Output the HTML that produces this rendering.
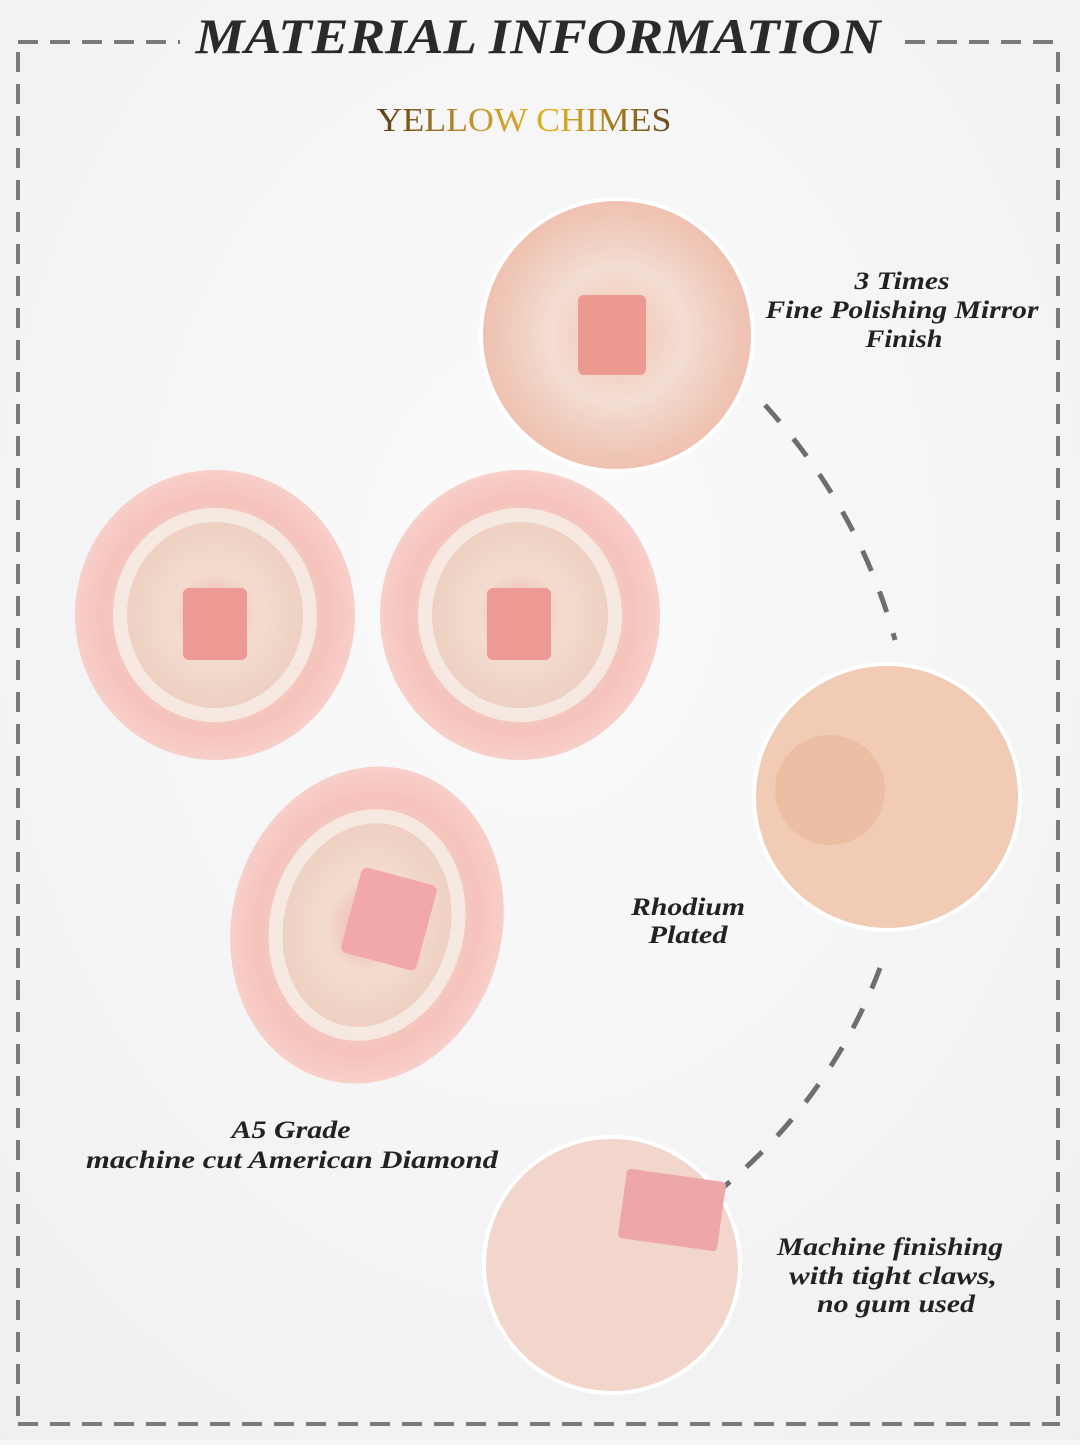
<!DOCTYPE html>
<html><head><meta charset="utf-8"><style>
html,body{margin:0;padding:0;}
body{width:1080px;height:1440px;overflow:hidden;background:#f7f7f7;}
</style></head><body>
<svg width="1080" height="1440" viewBox="0 0 1080 1440" xmlns="http://www.w3.org/2000/svg">
<defs>
<radialGradient id="bg" cx="0.5" cy="0.4" r="0.8"><stop offset="0" stop-color="#fbfbfb"/><stop offset="1" stop-color="#efefef"/></radialGradient>
<radialGradient id="jw" cx="0.5" cy="0.5" r="0.5">
<stop offset="0" stop-color="#f0b0a8"/><stop offset="0.3" stop-color="#f3dccf"/><stop offset="0.6" stop-color="#eed2c4"/><stop offset="0.8" stop-color="#f6c2bb"/><stop offset="1" stop-color="#f8cfc9"/></radialGradient>
<radialGradient id="cz" cx="0.5" cy="0.5" r="0.5">
<stop offset="0" stop-color="#f2c6b4"/><stop offset="0.5" stop-color="#f3ddd2"/><stop offset="0.85" stop-color="#efc8b8"/><stop offset="1" stop-color="#f0c0b0"/></radialGradient>
<linearGradient id="yc" x1="0" x2="1"><stop offset="0" stop-color="#5a3a1a"/><stop offset="0.35" stop-color="#c89a30"/><stop offset="0.6" stop-color="#e0b020"/><stop offset="1" stop-color="#6a4a20"/></linearGradient>
</defs>
<rect width="1080" height="1440" fill="url(#bg)"/>
<g stroke="#7a7a7a" stroke-width="4" fill="none" stroke-dasharray="20 12">
<line x1="18" y1="42" x2="180" y2="42"/>
<line x1="905" y1="42" x2="1060" y2="42"/>
<line x1="18" y1="52" x2="18" y2="1425"/>
<line x1="1058" y1="52" x2="1058" y2="1425"/>
<line x1="18" y1="1424" x2="1060" y2="1424"/>
</g>
<text x="538" y="53" text-anchor="middle" font-family="Liberation Serif, serif" font-weight="bold" font-style="italic" font-size="50" fill="#2a2a2a" textLength="685" lengthAdjust="spacingAndGlyphs">MATERIAL INFORMATION</text>
<text x="524" y="131" text-anchor="middle" font-family="Liberation Serif, serif" font-size="34" fill="url(#yc)" textLength="295" lengthAdjust="spacingAndGlyphs">YELLOW CHIMES</text>
<path d="M765 405 Q860 510 895 640" stroke="#6e6e6e" stroke-width="5" fill="none" stroke-dasharray="22 22"/>
<path d="M880 968 Q830 1100 720 1190" stroke="#6e6e6e" stroke-width="5" fill="none" stroke-dasharray="22 22"/>
<g>
<ellipse cx="215" cy="615" rx="140" ry="145" fill="url(#jw)"/>
<ellipse cx="215" cy="615" rx="95" ry="100" fill="none" stroke="#f6f0ea" stroke-width="14" opacity="0.8"/>
<rect x="183" y="588" width="64" height="72" rx="6" fill="#ee9a94"/>
<ellipse cx="520" cy="615" rx="140" ry="145" fill="url(#jw)"/>
<ellipse cx="520" cy="615" rx="95" ry="100" fill="none" stroke="#f6f0ea" stroke-width="14" opacity="0.8"/>
<rect x="487" y="588" width="64" height="72" rx="6" fill="#ee9a94"/>
<ellipse cx="367" cy="925" rx="135" ry="160" transform="rotate(15 367 925)" fill="url(#jw)"/>
<ellipse cx="367" cy="925" rx="90" ry="110" transform="rotate(15 367 925)" fill="none" stroke="#f6f0ea" stroke-width="14" opacity="0.8"/>
<rect x="350" y="875" width="78" height="88" rx="6" transform="rotate(15 389 919)" fill="#f2a8a8"/>
</g>
<circle cx="617" cy="335" r="136" fill="url(#cz)" stroke="#fff" stroke-width="4"/>
<rect x="578" y="295" width="68" height="80" rx="6" fill="#ec9a90"/>
<circle cx="887" cy="797" r="133" fill="#f1cbb3" stroke="#fff" stroke-width="4"/>
<circle cx="830" cy="790" r="55" fill="#ecbfa4"/>
<circle cx="612" cy="1265" r="128" fill="#f2d6cc" stroke="#fff" stroke-width="4"/>
<rect x="622" y="1175" width="100" height="70" rx="4" transform="rotate(8 672 1210)" fill="#eda7a8"/>
<g font-family="Liberation Serif, serif" font-weight="bold" font-style="italic" font-size="25" fill="#222" text-anchor="middle" lengthAdjust="spacingAndGlyphs">
<text x="902" y="289" textLength="95" lengthAdjust="spacingAndGlyphs">3 Times</text>
<text x="902" y="318" textLength="273" lengthAdjust="spacingAndGlyphs">Fine Polishing Mirror</text>
<text x="904" y="347" textLength="77" lengthAdjust="spacingAndGlyphs">Finish</text>
<text x="688" y="915" textLength="114" lengthAdjust="spacingAndGlyphs">Rhodium</text>
<text x="688" y="943" textLength="79" lengthAdjust="spacingAndGlyphs">Plated</text>
<text x="291" y="1138" textLength="119" lengthAdjust="spacingAndGlyphs">A5 Grade</text>
<text x="292" y="1168" textLength="412" lengthAdjust="spacingAndGlyphs">machine cut American Diamond</text>
<text x="890" y="1255" textLength="226" lengthAdjust="spacingAndGlyphs">Machine finishing</text>
<text x="893" y="1284" textLength="208" lengthAdjust="spacingAndGlyphs">with tight claws,</text>
<text x="896" y="1312" textLength="158" lengthAdjust="spacingAndGlyphs">no gum used</text>
</g>
</svg>
</body></html>
